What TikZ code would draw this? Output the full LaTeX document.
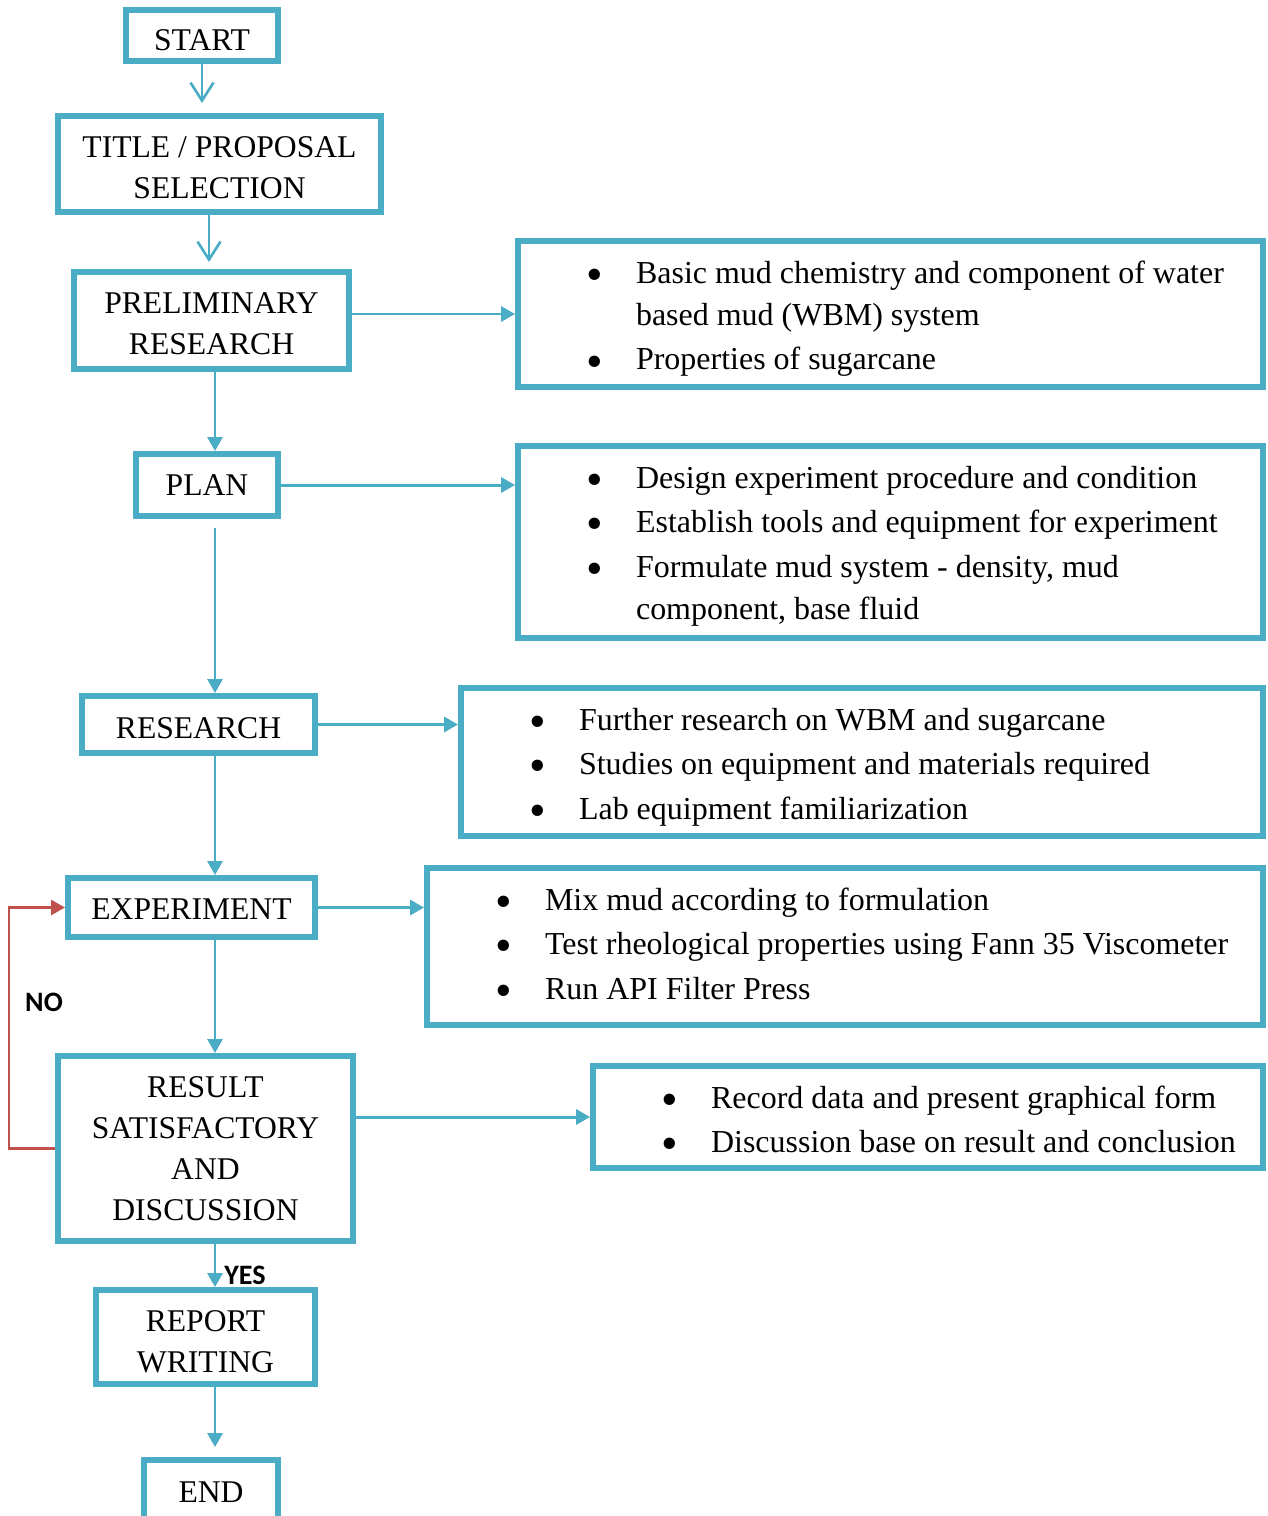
\documentclass[tikz,border=0pt]{standalone}
\usepackage{fontspec}
\setmainfont{LiberationSerif}[Extension=.ttf, UprightFont=*-Regular, BoldFont=*-Bold, ItalicFont=*-Italic, BoldItalicFont=*-BoldItalic]
\newfontfamily\lblfont{Carlito}
\usetikzlibrary{arrows.meta}
\definecolor{boxblue}{HTML}{4BACC6}
\definecolor{loopred}{HTML}{C0504D}
% one bullet line of a side box
\newcommand{\bigdot}{\hspace*{-0.08cm}\raisebox{-4pt}{\fontsize{27}{24}\selectfont\textbullet}}
\newcommand{\bul}[1]{\hangindent=0.92cm\hangafter=1\makebox[0.92cm][l]{\bigdot}#1\par}

\begin{document}
\begin{tikzpicture}[x=0.02cm, y=-0.02cm,
    stage/.style={draw=boxblue, line width=3.4pt, align=flush center, inner sep=0pt, anchor=base,
        font=\fontsize{18}{23.5}\selectfont},
    info/.style={draw=boxblue, line width=3.4pt, align=flush left, inner sep=0pt, anchor=base,
        font=\fontsize{18.2}{24}\selectfont},
    flow/.style={draw=boxblue, line width=1.7pt, -{Triangle[length=0.28cm,width=0.3cm]}},
    barbflow/.style={draw=boxblue, line width=1.5pt, -{Straight Barb[length=0.36cm,width=0.46cm]}},
    back/.style={draw=loopred, line width=1.5pt, -{Triangle[length=0.28cm,width=0.3cm]}},
    lbl/.style={font=\lblfont\bfseries\fontsize{16}{18}\selectfont, inner sep=1pt}]
                \useasboundingbox (0,0) rectangle (1268,1516);
                \coordinate (trunk) at (215,0);
                \coordinate (tp) at (209,0);

                % main column (placed at first baseline)
                \node[stage, text width=3.04cm, text height=0.8cm, text depth=0.22cm] (start) at (202,50) {START};
                \node[stage, text width=6.46cm, text height=0.82cm, text depth=1.1cm] (title) at (219.5,157) {TITLE / PROPOSAL\\SELECTION};
                \node[stage, text width=5.5cm, text height=0.82cm, text depth=1.12cm] (prelim) at (211.5,313) {PRELIMINARY\\RESEARCH};
                \node[stage, text width=2.84cm, text height=0.82cm, text depth=0.42cm] (plan) at (207,495) {PLAN};
                \node[stage, text width=4.66cm, text height=0.84cm, text depth=0.3cm] (research) at (198.5,738) {RESEARCH};
                \node[stage, text width=4.94cm, text height=0.82cm, text depth=0.36cm] (experiment) at (191.5,919) {EXPERIMENT};
                \node[stage, text width=5.9cm, text height=0.82cm, text depth=2.88cm] (result) at (205.5,1097) {RESULT\\SATISFACTORY\\AND\\DISCUSSION};
                \node[stage, text width=4.38cm, text height=0.82cm, text depth=1.06cm] (report) at (205.5,1331) {REPORT\\WRITING};
                \node[stage, text width=2.68cm, text height=0.84cm, text depth=0.36cm] (end) at (211,1502) {END};

                % side boxes
                \node[info, text width=14.9cm, text height=0.84cm, text depth=2.08cm] (prelimnote) at (890.5,283) {\leftskip=1.44cm \parskip=1.5pt
                    \bul{Basic mud chemistry and component of water\newline based mud (WBM) system}
                    \bul{Properties of sugarcane}};
                \node[info, text width=14.9cm, text height=0.84cm, text depth=3cm] (plannote) at (890.5,488) {\leftskip=1.44cm \parskip=1.5pt
                    \bul{Design experiment procedure and condition}
                    \bul{Establish tools and equipment for experiment}
                    \bul{Formulate mud system - density, mud\newline component, base fluid}};
                \node[info, text width=16.04cm, text height=0.84cm, text depth=2.12cm] (researchnote) at (862,730) {\leftskip=1.44cm \parskip=1.5pt
                    \bul{Further research on WBM and sugarcane}
                    \bul{Studies on equipment and materials required}
                    \bul{Lab equipment familiarization}};
                \node[info, text width=16.72cm, text height=0.84cm, text depth=2.3cm] (experimentnote) at (845,910) {\leftskip=1.44cm \parskip=1.5pt
                    \bul{Mix mud according to formulation}
                    \bul{Test rheological properties using Fann 35 Viscometer}
                    \bul{Run API Filter Press}};
                \node[info, text width=13.4cm, text height=0.84cm, text depth=1.2cm] (resultnote) at (928,1108) {\leftskip=1.44cm \parskip=1.5pt
                    \bul{Record data and present graphical form}
                    \bul{Discussion base on result and conclusion}};

                % connectors
                \draw[barbflow, shorten >=0.2cm] (start.south) -- (start.south |- title.north);
                \draw[barbflow, shorten >=0.14cm] (title.south -| tp) -- (prelim.north -| tp);
                \draw[flow] (prelim.south -| trunk) -- (plan.north -| trunk);
                \draw[flow, shorten <=0.18cm] (plan.south -| trunk) -- (research.north -| trunk);
                \draw[flow] (research.south -| trunk) -- (experiment.north -| trunk);
                \draw[flow] (experiment.south -| trunk) -- (result.north -| trunk);
                \draw[flow] (result.south -| trunk) -- node[lbl, pos=0.72, right, xshift=0.12cm] (yes) {YES} (report.north -| trunk);
                \draw[flow, shorten >=0.2cm] (report.south -| trunk) -- (end.north -| trunk);

                \draw[flow] (prelim.east |- prelimnote.west) -- (prelimnote.west);
                \draw[flow] (plan.east) -- (plan.east -| plannote.west);
                \draw[flow] (research.east) -- (research.east -| researchnote.west);
                \draw[flow] (experiment.east) -- (experiment.east -| experimentnote.west);
                \draw[flow] (result.east |- resultnote.west) -- (resultnote.west);

                \draw[back] (result.west) -- ++(-46,0) |- (experiment.west);
                \node[lbl] (no) at (44,1002) {NO};

            \end{tikzpicture}
\end{document}
